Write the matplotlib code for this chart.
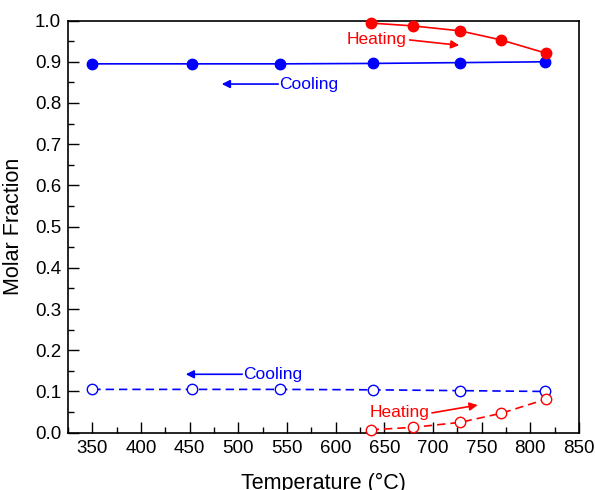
import matplotlib
matplotlib.use("Agg")
import matplotlib.pyplot as plt
from matplotlib.ticker import MultipleLocator

plt.rcParams['font.family'] = ['Liberation Sans', 'DejaVu Sans']

# Data
cool_T = [350, 452, 543, 638, 728, 815]
cool_major = [0.895, 0.895, 0.895, 0.896, 0.898, 0.900]
cool_minor = [0.105, 0.105, 0.105, 0.104, 0.102, 0.100]
heat_T = [636, 680, 728, 770, 816]
heat_major = [0.994, 0.987, 0.975, 0.953, 0.921]
heat_minor = [0.007, 0.013, 0.025, 0.047, 0.081]

xticks = [350, 400, 450, 500, 550, 600, 650, 700, 750, 800, 850]
yticks = [0.0, 0.1, 0.2, 0.3, 0.4, 0.5, 0.6, 0.7, 0.8, 0.9, 1.0]

fig = plt.figure(figsize=(5.95, 4.9), dpi=100)
ax = fig.add_axes([0.1143, 0.117, 0.973 - 0.1143, 0.958 - 0.117])

blue = '#0000ff'
red = '#ff0000'
ax.plot(cool_T, cool_major, '-o', color=blue, lw=1.2, ms=7.5, zorder=3, clip_on=False)
ax.plot(heat_T, heat_major, '-o', color=red, lw=1.2, ms=7.5, zorder=3, clip_on=False)
ax.plot(cool_T, cool_minor, '--o', color=blue, lw=1.2, ms=7.5,
        mfc='white', mew=1.0, dashes=(5, 3), zorder=3, clip_on=False)
ax.plot(heat_T, heat_minor, '--o', color=red, lw=1.2, ms=7.5,
        mfc='white', mew=1.0, dashes=(5, 3), zorder=3, clip_on=False)

ax.set_xlim(325, 850)
ax.set_ylim(0.0, 1.0)
ax.set_xticks(xticks)
ax.set_yticks(yticks)
ax.set_yticklabels([f"{v:.1f}" for v in yticks])
ax.xaxis.set_minor_locator(MultipleLocator(25))
ax.yaxis.set_minor_locator(MultipleLocator(0.05))
ax.tick_params(which='both', direction='in', top=False, right=False,
               labelsize=13.5, width=1.0)
ax.tick_params(which='major', length=8, pad=5)
ax.tick_params(which='minor', length=4)
for s in ax.spines.values():
    s.set_linewidth(1.2)

ax.set_xlabel('Temperature (°C)', fontsize=15.5, labelpad=12)
ax.set_ylabel('Molar Fraction', fontsize=15.5, labelpad=8)

arrow_kw = dict(arrowstyle='-|>', lw=1.2, mutation_scale=12, shrinkA=0, shrinkB=0)

# Top annotations
ax.text(673, 0.953, 'Heating', color=red, fontsize=12.5, ha='right', va='center')
ax.annotate('', xy=(727, 0.940), xytext=(676, 0.953),
            arrowprops=dict(color=red, **arrow_kw))
ax.text(542, 0.846, 'Cooling', color=blue, fontsize=12.5, ha='left', va='center')
ax.annotate('', xy=(483, 0.846), xytext=(541, 0.846),
            arrowprops=dict(color=blue, **arrow_kw))

# Bottom annotations
ax.text(505, 0.1417, 'Cooling', color=blue, fontsize=12.5, ha='left', va='center')
ax.annotate('', xy=(446, 0.1417), xytext=(504, 0.1417),
            arrowprops=dict(color=blue, **arrow_kw))
ax.text(696, 0.048, 'Heating', color=red, fontsize=12.5, ha='right', va='center')
ax.annotate('', xy=(746, 0.067), xytext=(699, 0.048),
            arrowprops=dict(color=red, **arrow_kw))

fig.savefig('out.png', dpi=100)
